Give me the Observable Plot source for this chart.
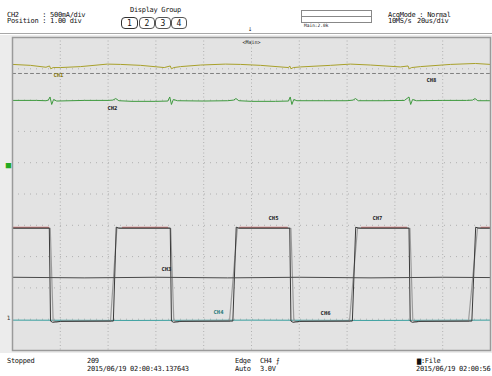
<!DOCTYPE html>
<html><head><meta charset="utf-8">
<script src="https://cdn.jsdelivr.net/npm/d3@7"></script>
<script src="https://cdn.jsdelivr.net/npm/@observablehq/plot@0.6"></script>
<style>
html,body{margin:0;padding:0;background:#fff;}
#wrap{position:relative;width:492px;height:376px;overflow:hidden;background:#fff;font-family:"DejaVu Sans Mono",monospace;color:#111;}
.t{position:absolute;white-space:pre;font-size:7px;line-height:7px;letter-spacing:-0.3px;}
.btn{position:absolute;top:17px;height:12px;border:1px solid #555;border-radius:4px;font-size:8px;line-height:11px;text-align:center;box-sizing:border-box;}
#plot{position:absolute;left:0;top:35px;}
</style></head>
<body><div id="wrap">
<div class="t" style="left:7px;top:11.8px">CH2      : 500mA/div</div>
<div class="t" style="left:7px;top:18.4px">Position : 1.00 div</div>
<div class="t" style="left:130px;top:7.4px">Display Group</div>
<div class="btn" style="left:121px;width:17px;border:1.5px solid #333">1</div>
<div class="btn" style="left:139px;width:16px">2</div>
<div class="btn" style="left:155px;width:16px">3</div>
<div class="btn" style="left:171px;width:16px">4</div>
<div style="position:absolute;left:301px;top:10px;width:71px;height:13px;border:1px solid #888;border-bottom:none;box-sizing:border-box"></div>
<div style="position:absolute;left:301px;top:16px;width:71px;height:0;border-top:1px solid #888"></div>
<div style="position:absolute;left:301px;top:22px;width:71px;height:0;border-top:1px solid #888"></div>
<div class="t" style="left:304px;top:23px;font-size:4.5px;line-height:5px;letter-spacing:0">Main:2.0k</div>
<div class="t" style="left:388px;top:11.8px">AcqMode : Normal</div>
<div class="t" style="left:388px;top:18.4px">10MS/s</div>
<div class="t" style="left:417px;top:18.4px">20us/div</div>
<div style="position:absolute;left:0;top:33px;width:492px;height:0;border-top:1.5px solid #a8a8a8"></div>
<div class="t" style="left:248px;top:26px;letter-spacing:0">⇣</div>
<div id="plot"></div>
<div class="t" style="left:7px;top:357.6px">Stopped</div>
<div class="t" style="left:87px;top:357.6px">209</div>
<div class="t" style="left:87px;top:365.8px">2015/06/19 02:00:43.137643</div>
<div class="t" style="left:235px;top:357.6px">Edge</div>
<div class="t" style="left:235px;top:365.8px">Auto</div>
<div class="t" style="left:260px;top:357.6px">CH4 ⨍</div>
<div class="t" style="left:260px;top:365.8px">3.0V</div>
<div class="t" style="left:417px;top:357.6px">▆:File</div>
<div class="t" style="left:416px;top:365.8px">2015/06/19 02:00:56</div>
</div>
<script>
// time in microseconds (20 us/div, 10 div), level in divisions
const xGridTimes = [-80, -60, -40, -20, 0, 20, 40, 60, 80];
const yGridDivs = [-4, -3, -2, -1, 0, 1, 2, 3, 4];

const ch1 = [[-100,4.14],[-92.5,4.11],[-86,4.05],[-84.5,4.09],[-84,4.0],[-83,4.04],[-79.9,4.04],[-71.5,4.07],[-60.3,4.15],[-54.8,4.14],[-46.4,4.11],[-36.5,4.04],[-34,4.09],[-33.5,4.0],[-32.5,4.04],[-29.7,4.07],[-21.3,4.12],[-10.9,4.15],[-4.6,4.14],[3.8,4.11],[15.5,4.04],[16,4.09],[16.5,4.0],[17.5,4.04],[20.5,4.06],[33.1,4.11],[41.4,4.15],[49.8,4.12],[62.3,4.06],[65.5,4.09],[66,4.0],[67,4.04],[70.7,4.07],[83.3,4.14],[93.7,4.17],[100,4.14]];
const ch2 = [[-100,2.99],[-90,2.99],[-86,2.98],[-85,3.0],[-84.3,3.10],[-83.6,2.86],[-82.8,3.02],[-81.5,2.97],[-70,2.99],[-60,2.99],[-58,3.0],[-56.8,3.05],[-55.5,2.98],[-50,2.96],[-40,2.96],[-35,2.97],[-34.2,3.10],[-33.5,2.86],[-32.7,3.02],[-31,2.98],[-20,2.97],[-10,2.98],[-7.5,3.0],[-6.5,3.05],[-5.3,2.98],[0,2.96],[10,2.96],[15.5,2.97],[16.2,3.10],[16.9,2.86],[17.7,3.02],[19,2.98],[30,2.98],[40,2.98],[42.5,3.0],[43.5,3.05],[44.7,2.98],[55,2.98],[64,2.99],[65.9,3.10],[66.6,2.86],[67.4,3.02],[69,2.98],[80,2.99],[90,2.99],[92.5,3.0],[93.5,3.05],[94.7,2.98],[100,2.98]];
const ch8 = [[-100,3.85],[-60,3.85],[-20,3.85],[20,3.85],[60,3.85],[100,3.85]];
const ch3 = [[-100,-2.66],[-70,-2.68],[-40,-2.66],[-10,-2.68],[20,-2.66],[50,-2.68],[80,-2.66],[100,-2.67]];
const ch4 = [[-100,-4.03],[-50,-4.04],[0,-4.03],[50,-4.04],[100,-4.03]];
const sqDark = [[-100,-1.09],[-84.6,-1.09],[-84.1,-4.06],[-83.2,-4.10],[-80,-4.07],[-57.8,-4.06],[-56.6,-1.06],[-55.6,-1.09],[-34.0,-1.09],[-33.5,-4.06],[-32.6,-4.10],[-30,-4.07],[-7.8,-4.06],[-6.4,-1.06],[-5.4,-1.09],[16.0,-1.09],[16.5,-4.06],[17.4,-4.10],[20,-4.07],[42.2,-4.06],[43.6,-1.06],[44.6,-1.09],[65.9,-1.09],[66.4,-4.06],[67.3,-4.10],[70,-4.07],[92.2,-4.06],[93.8,-1.06],[94.8,-1.09],[100,-1.09]];
const sqLight = [[-100,-1.10],[-84.2,-1.10],[-83.0,-4.05],[-81.5,-4.09],[-79,-4.06],[-59.0,-4.06],[-56.3,-1.07],[-55,-1.10],[-33.8,-1.10],[-32.5,-4.05],[-31,-4.09],[-29,-4.06],[-9.2,-4.06],[-5.9,-1.07],[-4.8,-1.10],[16.5,-1.10],[17.7,-4.05],[19.2,-4.09],[21,-4.06],[41.0,-4.06],[44.4,-1.07],[45.5,-1.10],[66.3,-1.10],[67.5,-4.05],[69,-4.09],[71,-4.06],[90.8,-4.06],[94.6,-1.07],[95.8,-1.10],[100,-1.10]];
const redSegments = [[-100,-84.8],[-54,-35],[-5,15],[46,65],[96,100]];

const labels = [
  {name:"CH1", t:-80.8, v:3.80, color:"#8a7a10"},
  {name:"CH2", t:-58.2, v:2.73, color:"#222"},
  {name:"CH8", t:75.3, v:3.63, color:"#222"},
  {name:"CH3", t:-35.6, v:-2.41, color:"#222"},
  {name:"CH4", t:-13.8, v:-3.79, color:"#2a7a7a"},
  {name:"CH5", t:9.2, v:-0.78, color:"#222"},
  {name:"CH6", t:31.0, v:-3.82, color:"#222"},
  {name:"CH7", t:52.7, v:-0.78, color:"#222"}
];

const xy = d => ({x: d[0], y: d[1]});
const redPts = redSegments.flatMap(([a,b], i) => [{x:a, y:-1.065, s:i},{x:b, y:-1.065, s:i}]);

const chart = Plot.plot({
  width: 492, height: 318,
  marginLeft: 12, marginRight: 2, marginTop: 2, marginBottom: 3,
  x: {domain: [-100, 100], axis: null},
  y: {domain: [-5, 5], axis: null},
  style: {background: "#ececec", overflow: "visible", fontFamily: "DejaVu Sans Mono"},
  marks: [
    Plot.frame({fill: "#e3e3e3", stroke: "none"}),
    Plot.ruleX(xGridTimes, {stroke: "#b0b0b0", strokeDasharray: "1,2.5"}),
    Plot.ruleY(yGridDivs, {stroke: "#b0b0b0", strokeDasharray: "1,5"}),
    Plot.line(ch4.map(xy), {x: "x", y: "y", stroke: "#3aa0a0", strokeWidth: 1}),
    Plot.line(redPts, {x: "x", y: "y", z: "s", stroke: "#d07070", strokeWidth: 1.2}),
    Plot.line(sqLight.map(xy), {x: "x", y: "y", stroke: "#9c9c9c", strokeWidth: 1.2}),
    Plot.line(sqDark.map(xy), {x: "x", y: "y", stroke: "#3a3a3a", strokeWidth: 1}),
    Plot.line(ch3.map(xy), {x: "x", y: "y", stroke: "#4a4a4a", strokeWidth: 1}),
    Plot.line(ch8.map(xy), {x: "x", y: "y", stroke: "#666", strokeWidth: 0.8, strokeDasharray: "3,3"}),
    Plot.line(ch1.map(xy), {x: "x", y: "y", stroke: "#a8a02a", strokeWidth: 1}),
    Plot.line(ch2.map(xy), {x: "x", y: "y", stroke: "#3f9a3f", strokeWidth: 1}),
    Plot.text(labels, {x: "t", y: "v", text: "name", fill: "color", fontSize: 5.5, fontWeight: "bold"}),
    Plot.text(["<Main>"], {x: () => 0, y: () => 4.84, text: d => d, fontSize: 5, fill: "#222"}),
    Plot.text(["■"], {x: () => -100, y: () => 0.91, text: d => d, dx: -4, fontSize: 9, fill: "#22aa22"}),
    Plot.text(["1"], {x: () => -100, y: () => -3.98, text: d => d, dx: -4, fontSize: 6, fill: "#333"}),
    Plot.frame({stroke: "#9a9a9a", strokeWidth: 1.5})
  ]
});
document.getElementById("plot").appendChild(chart);
</script>
</body></html>
